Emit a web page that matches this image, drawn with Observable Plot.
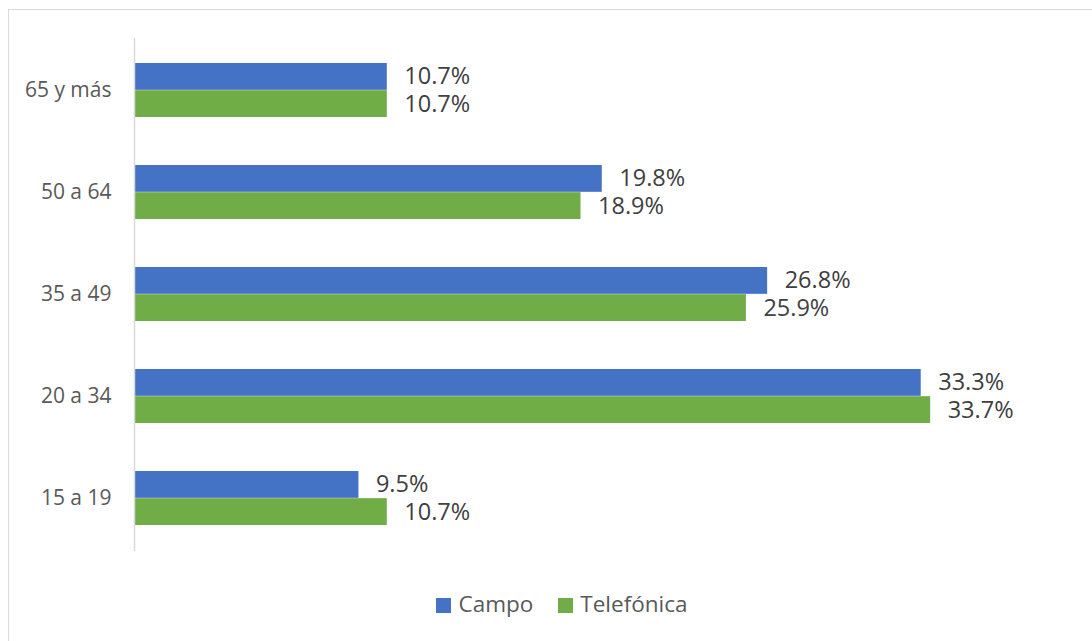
<!DOCTYPE html>
<html>
<head>
<meta charset="utf-8">
<script src="https://cdn.jsdelivr.net/npm/d3@7"></script>
<script src="https://cdn.jsdelivr.net/npm/@observablehq/plot@0.6"></script>
<style>
  html, body { margin: 0; padding: 0; background: #fff; }
  #wrap { position: relative; width: 1092px; height: 641px; overflow: hidden; font-family: "Open Sans", sans-serif; }
  #frame { position: absolute; left: 8px; top: 9px; width: 1100px; height: 660px; border: 1px solid #d9d9d9; box-sizing: border-box; }
  #chart { position: absolute; left: 0; top: 0; }
  #legend { position: absolute; left: 0; width: 1092px; top: 588px; display: flex; justify-content: center; gap: 25px; padding-left: 32px; box-sizing: border-box; font-size: 22.5px; color: #595959; }
  .item { display: flex; align-items: center; gap: 7px; }
  .sw { width: 15px; height: 15px; display: inline-block; margin-top: 3px; }
</style>
</head>
<body>
<div id="wrap">
  <div id="frame"></div>
  <div id="chart"></div>
  <div id="legend"></div>
</div>
<script>
const categories = ["65 y más", "50 a 64", "35 a 49", "20 a 34", "15 a 19"];
const series = ["Campo", "Telefónica"];
const campo = [10.7, 19.8, 26.8, 33.3, 9.5];
const telefonica = [10.7, 18.9, 25.9, 33.7, 10.7];
const colors = ["#4472C4", "#70AD47"];

const dataCampo = categories.map((c, i) => ({cat: c, serie: "Campo", v: campo[i]}));
const dataTel = categories.map((c, i) => ({cat: c, serie: "Telefónica", v: telefonica[i]}));

const height = 570, marginTop = 38, marginBottom = 19;
const pIn = 0.47, pOut = 0.235;
const step = (height - marginTop - marginBottom) / (categories.length - pIn + 2 * pOut);
const bw = step * (1 - pIn);
const half = bw / 2;

const chart = Plot.plot({
  width: 1092,
  height,
  marginLeft: 134,
  marginRight: 13,
  marginTop,
  marginBottom,
  style: { fontFamily: "Open Sans, sans-serif", background: "transparent" },
  x: { domain: [0, 40], axis: null },
  y: { domain: categories, paddingInner: pIn, paddingOuter: pOut, label: null, tickSize: 0, tickPadding: 23 },
  marks: [
    Plot.axisY({ tickSize: 0, tickPadding: 23, fontSize: 21, fill: "#595959", label: null }),
    Plot.barX(dataCampo, { y: "cat", x: "v", fill: colors[0], insetBottom: half }),
    Plot.barX(dataTel, { y: "cat", x: "v", fill: colors[1], insetTop: half }),
    Plot.ruleX([0], { stroke: "#d9d9d9", strokeWidth: 1.5 }),
    Plot.text(dataCampo, { y: "cat", x: "v", text: d => d.v.toFixed(1) + "%", textAnchor: "start", dx: 17, dy: -half / 2, fontSize: 23.5, fill: "#404040" }),
    Plot.text(dataTel, { y: "cat", x: "v", text: d => d.v.toFixed(1) + "%", textAnchor: "start", dx: 17, dy: half / 2, fontSize: 23.5, fill: "#404040" })
  ]
});
document.getElementById("chart").appendChild(chart);

const legend = document.getElementById("legend");
series.forEach((s, i) => {
  const it = document.createElement("div");
  it.className = "item";
  const sw = document.createElement("span");
  sw.className = "sw";
  sw.style.background = colors[i];
  const t = document.createElement("span");
  t.textContent = s;
  it.appendChild(sw);
  it.appendChild(t);
  legend.appendChild(it);
});
</script>
</body>
</html>
